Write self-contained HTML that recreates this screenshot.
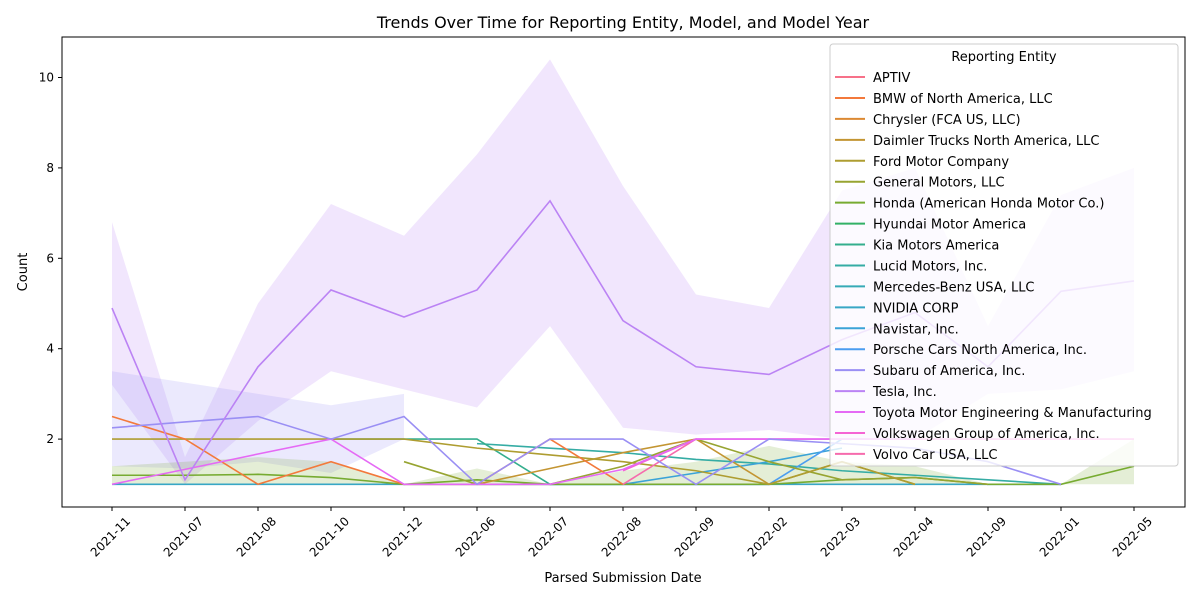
<!DOCTYPE html>
<html><head><meta charset="utf-8"><style>
body{margin:0;background:#fff;font-family:"Liberation Sans","DejaVu Sans",sans-serif}
svg text{font-family:"DejaVu Sans","Liberation Sans",sans-serif}
</style></head><body>
<svg id="c" width="1200" height="600" xmlns="http://www.w3.org/2000/svg"></svg>
<script>
const categories=["2021-11","2021-07","2021-08","2021-10","2021-12","2022-06","2022-07","2022-08","2022-09","2022-02","2022-03","2022-04","2021-09","2022-01","2022-05"];
const yTicks=[2,4,6,8,10];
const entities=["APTIV","BMW of North America, LLC","Chrysler (FCA US, LLC)","Daimler Trucks North America, LLC","Ford Motor Company","General Motors, LLC","Honda (American Honda Motor Co.)","Hyundai Motor America","Kia Motors America","Lucid Motors, Inc.","Mercedes-Benz USA, LLC","NVIDIA CORP","Navistar, Inc.","Porsche Cars North America, Inc.","Subaru of America, Inc.","Tesla, Inc.","Toyota Motor Engineering & Manufacturing","Volkswagen Group of America, Inc.","Volvo Car USA, LLC"];
const colors=["#f77189","#f3793b","#dc8932","#c39532","#ae9d31","#97a431","#77ab31","#32b166","#34ae8d","#35aca4","#36aab6","#38a7c5","#3ba3d7","#4b9df0","#9a8ff4","#bb83f4","#e56af5","#f564d4","#f66bad"];
const N=null;
const teslaVals=[4.9,1.1,3.6,5.3,4.7,5.3,7.27,4.62,3.6,3.43,4.2,4.8,3.6,5.27,5.5];
const teslaLo=[3.2,1.0,2.4,3.5,3.1,2.7,4.5,2.25,2.1,2.2,2.0,2.0,3.0,3.1,3.5];
const teslaHi=[6.8,1.6,5.0,7.2,6.5,8.3,10.4,7.6,5.2,4.9,7.5,8.0,4.5,7.4,8.0];
const subaruVals=[2.25,2.38,2.5,2.0,2.5,1.0,2.0,2.0,1.0,2.0,1.9,1.8,1.5,1.0,N];
const subaruLo=[1.4,1.35,1.5,1.25,2.0,N,N,N,N,N,N,N,N,N,N];
const subaruHi=[3.5,3.25,3.0,2.75,3.0,N,N,N,N,N,N,N,N,N,N];
const hondaVals=[1.2,1.2,1.22,1.15,1.0,1.1,1.0,1.0,1.0,1.0,1.1,1.15,1.0,1.0,1.4];
const hondaLo=[1.0,1.0,1.0,1.0,1.0,1.0,1.0,1.0,1.0,1.0,1.0,1.0,1.0,1.0,1.0];
const hondaHi=[1.4,1.5,1.6,1.5,1.0,1.35,1.0,1.3,1.5,1.85,1.5,1.4,1.0,1.0,2.0];
const bmwVals=[2.5,2.0,1.0,1.5,1.0,1.0,2.0,1.0,N,N,N,N,N,N,N];
const fordVals=[2,2,2,2,2,1.8,1.65,1.5,1.3,1.0,1.5,1.0,N,N,N];
const gmVals=[N,N,N,N,1.5,1.0,1.0,1.4,2.0,1.5,1.1,1.15,1.0,N,N];
const daimlerVals=[N,N,N,N,N,1.0,1.35,1.7,2.0,1.0,1.5,1.0,N,N,N];
const kiaVals=[N,N,N,2,2,2,1.0,1.0,N,N,N,N,N,N,N];
const lucidVals=[N,N,N,N,N,1.9,1.8,1.7,1.55,1.45,1.3,1.2,1.1,1.0,N];
const baseVals=[1,1,1,1,1,1,1,1,1,1,1,1,1,1,N];
const navistarVals=[N,N,N,N,N,N,1.0,1.0,1.25,1.5,1.8,N,N,N,N];
const porscheVals=[N,N,N,N,N,N,N,1.0,1.0,1.0,2.0,N,N,N,N];
const toyotaVals=[1,1.33,1.67,2,1,1,1,1.33,2,2,2,2,N,N,2];
const vwVals=[N,N,N,N,N,N,N,1.3,2.0,2.0,2.0,2.0,2.0,2.0,2.0];
const volvoVals=[N,N,N,N,N,N,N,1.0,2.0,N,N,N,N,N,N];

const svg=document.getElementById('c');const NS="http://www.w3.org/2000/svg";
const X0=112,DX=73,Y0=529.5,DY=45.2;
const xs=i=>X0+DX*i, ys=v=>Y0-DY*v;
function el(t,a,p){const e=document.createElementNS(NS,t);for(const k in a)e.setAttribute(k,a[k]);(p||svg).appendChild(e);return e;}
function txt(s,a,p){const e=el('text',a,p);e.textContent=s;return e;}
const clip=el('clipPath',{id:'cl'});el('rect',{x:62,y:37,width:1123,height:470},clip);
const plot=el('g',{'clip-path':'url(#cl)'});


function band(lo,hi,col,op,name){const idx=[];lo.forEach((v,i)=>{if(v!==null&&hi[i]!==null)idx.push(i)});
 const pts=idx.map(i=>xs(i)+','+ys(hi[i])).concat(idx.slice().reverse().map(i=>xs(i)+','+ys(lo[i])));
 const p=el('polygon',{points:pts.join(' '),fill:col,'fill-opacity':op},plot);
 
 }
function line(vals,col,name){let d='';let pen=false;vals.forEach((v,i)=>{if(v===null){pen=false;return;}d+=(pen?'L':'M')+xs(i)+' '+ys(v)+' ';pen=true;});
 const p=el('path',{d:d,fill:'none',stroke:col,'stroke-width':1.6},plot);
 
 }
band(teslaLo,teslaHi,colors[15],0.2,'tesla-ci-band');
band(subaruLo,subaruHi,colors[14],0.2,'subaru-ci-band');
band(hondaLo,hondaHi,colors[6],0.2,'honda-ci-band');
line(baseVals,colors[11],'baseline-series-line');
line(lucidVals,colors[9],'lucid-line');
line(kiaVals,colors[8],'kia-line');
line(navistarVals,colors[12],'navistar-line');
line(porscheVals,colors[13],'porsche-line');
line(hondaVals,colors[6],'honda-line');
line(gmVals,colors[5],'gm-line');
line(daimlerVals,colors[3],'daimler-line');
line(fordVals,colors[4],'ford-line');
line(bmwVals,colors[1],'bmw-line');
line(volvoVals,colors[18],'volvo-line');
line(vwVals,colors[17],'volkswagen-line');
line(toyotaVals,colors[16],'toyota-line');
line(subaruVals,colors[14],'subaru-line');
line(teslaVals,colors[15],'tesla-line');
const frame=el('rect',{x:62,y:37,width:1123,height:470,fill:'none',stroke:'#000','stroke-width':1});


yTicks.forEach(v=>{el('line',{x1:58,x2:62,y1:ys(v),y2:ys(v),stroke:'#000'});
 const t=txt(v,{x:54,y:ys(v)+4,'text-anchor':'end','font-size':12});
 
 });
categories.forEach((c,i)=>{el('line',{x1:xs(i),x2:xs(i),y1:507,y2:511,stroke:'#000'});
 const ax=xs(i)+19, ay=522;
 const t=txt(c,{x:ax,y:ay,'text-anchor':'end','font-size':12,transform:`rotate(-45 ${ax} ${ay})`});
 
 });
const ti=txt('Trends Over Time for Reporting Entity, Model, and Model Year',{x:623,y:28,'text-anchor':'middle','font-size':16});


const xl=txt('Parsed Submission Date',{x:623,y:582,'text-anchor':'middle','font-size':13});


const yl=txt('Count',{x:27,y:272,'text-anchor':'middle','font-size':13,transform:'rotate(-90 27 272)'});


const lg=el('g',{});


el('rect',{x:830,y:44,width:348,height:422,rx:3,fill:'#fff','fill-opacity':0.8,stroke:'#ccc'},lg);
txt('Reporting Entity',{x:1004,y:61,'text-anchor':'middle','font-size':13},lg);
entities.forEach((n,i)=>{const y=77+20.94*i;const g=el('g',{},lg);
 
 
 el('line',{x1:835,x2:865,y1:y,y2:y,stroke:colors[i],'stroke-width':2},g);
 txt(n,{x:873,y:y+5,'font-size':13},g);});
</script></body></html>
